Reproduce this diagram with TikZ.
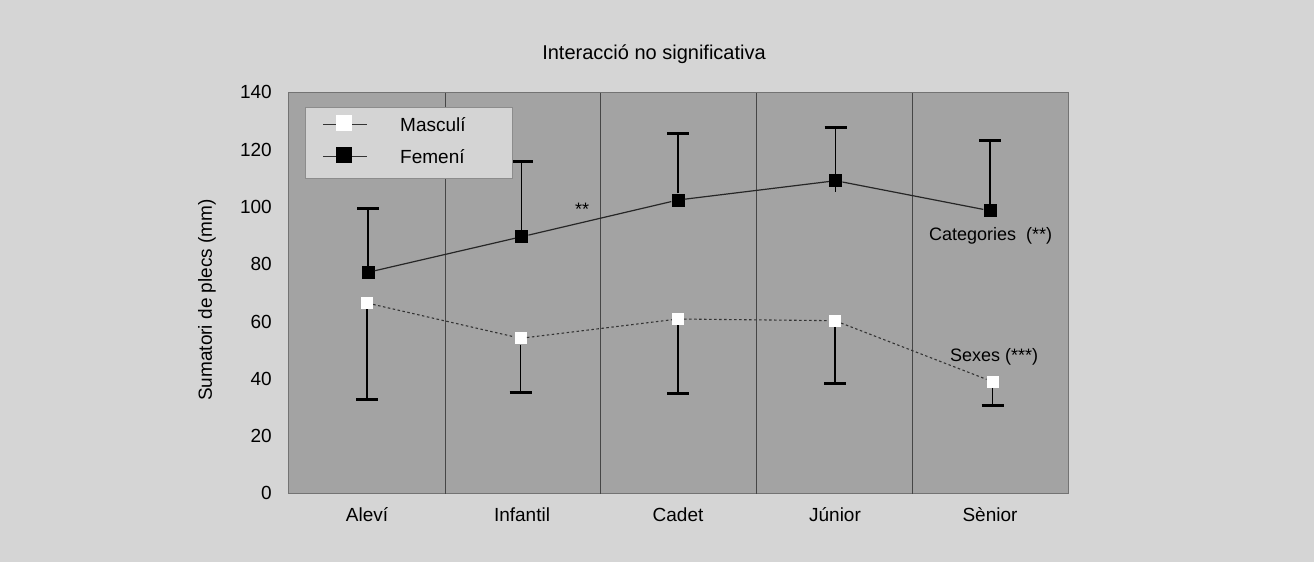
\documentclass[tikz,border=0pt]{standalone}
\usepackage{fontspec}
\setmainfont{Liberation Sans}
\definecolor{bgc}{RGB}{213,213,213}
\definecolor{plotc}{RGB}{163,163,163}
\definecolor{legc}{RGB}{212,212,212}
\definecolor{sepc}{RGB}{70,70,70}
\begin{document}
\begin{tikzpicture}[x=1pt,y=-1pt,
  fsq/.style={fill=black,draw=none,minimum size=13pt,inner sep=0pt},
  msq/.style={fill=white,draw=none,minimum size=12pt,inner sep=0pt},
  lfsq/.style={fill=black,draw=none,minimum size=16pt,inner sep=0pt},
  lmsq/.style={fill=white,draw=none,minimum size=16pt,inner sep=0pt},
  fline/.style={line width=1.2pt,black!85},
  mline/.style={line width=1.1pt,black!80,dash pattern=on 2.5pt off 2.5pt},
  ebar/.style={line width=1.1pt,black},
  ecap/.style={line width=3pt,black},
  lbl/.style={font=\fontsize{19}{22}\selectfont,inner sep=0pt},
  ann/.style={font=\fontsize{18}{21}\selectfont,inner sep=0pt},
  tick/.style={font=\fontsize{19}{22}\selectfont,inner sep=0pt,anchor=east}]
\useasboundingbox (0,0) rectangle (1314,562);
\fill[bgc] (0,0) rectangle (1314,562);
% plot area
\fill[plotc] (288.5,92.5) rectangle (1068,493.5);
\draw[line width=0.6pt,black!55] (288.5,92.5) rectangle (1068,493.5);
\foreach \x in {445,600.5,756.5,912.5}
  \draw[line width=0.9pt,sepc] (\x,92.5) -- (\x,493.5);
% title
\node[font=\fontsize{20}{24}\selectfont,inner sep=0pt,anchor=base] (title) at (654,59) {Interacció no significativa};
% y axis label
\node[lbl,rotate=90] (ylab) at (207,300) {Sumatori de plecs (mm)};
% tick labels
\foreach \v/\n in {0/t0,20/t20,40/t40,60/t60,80/t80,100/t100,120/t120,140/t140}
  \node[tick] (\n) at (272,{493.3-2.864*\v}) {\v};
% category labels
\node[lbl,anchor=base] (c1) at (367,521) {Aleví};
\node[lbl,anchor=base] (c2) at (522,521) {Infantil};
\node[lbl,anchor=base] (c3) at (678,521) {Cadet};
\node[lbl,anchor=base] (c4) at (835,521) {Júnior};
\node[lbl,anchor=base] (c5) at (990,521) {Sènior};
% caps coordinates
\coordinate (cf1) at (368,208.7);
\coordinate (cf2) at (521.7,161);
\coordinate (cf3) at (678,133.3);
\coordinate (cf4) at (835.7,127.7);
\coordinate (cf5) at (990,140.3);
\coordinate (lf4) at (835.7,192);
\coordinate (cm1) at (367,399.7);
\coordinate (cm2) at (520.7,392.3);
\coordinate (cm3) at (678,393);
\coordinate (cm4) at (835,383.3);
\coordinate (cm5) at (992.7,405.7);
% markers
\node[fsq] (f1) at (368,272.3) {};
\node[fsq] (f2) at (521.7,236.7) {};
\node[fsq] (f3) at (678,200) {};
\node[fsq] (f4) at (835.7,180.7) {};
\node[fsq] (f5) at (990,210.7) {};
\node[msq] (m1) at (367,303) {};
\node[msq] (m2) at (520.7,338.3) {};
\node[msq] (m3) at (678,319) {};
\node[msq] (m4) at (835,320.7) {};
\node[msq] (m5) at (992.7,381.7) {};
% connecting lines
\draw[fline] (f1) -- (f2) -- (f3) -- (f4) -- (f5);
\draw[mline] (m1) -- (m2) -- (m3) -- (m4) -- (m5);
% error bars
\foreach \i in {1,...,5}{
  \draw[ebar] (f\i.north) -- (cf\i);
  \draw[ecap] ([xshift=-11pt]cf\i) -- ([xshift=11pt]cf\i);
  \draw[ebar] (m\i.south) -- (cm\i);
  \draw[ecap] ([xshift=-11pt]cm\i) -- ([xshift=11pt]cm\i);
}
\draw[line width=0.8pt] (f4.south) -- (lf4);
% annotations
\node[ann,anchor=base] (sig) at (582,215) {**};
\node[ann,anchor=base west] (catl) at (929,240) {Categories~ (**)};
\node[ann,anchor=base west] (sexl) at (950,361) {Sexes (***)};
% legend
\node[draw=black!45,line width=0.6pt,fill=legc,minimum width=207pt,minimum height=71.6pt,inner sep=0pt,anchor=north west] (leg) at (305,106.7) {};
\coordinate (lm1) at (323,124);
\coordinate (lm2) at (367,124);
\coordinate (lf1) at (323,156.7);
\coordinate (lf2) at (367,156.7);
\draw[line width=1pt,black!80] (lm1) -- (lm2);
\draw[line width=1pt,black!80] (lf1) -- (lf2);
\node[lmsq] (legm) at (344,123) {};
\node[lfsq] (legf) at (344,154.7) {};
\node[lbl,anchor=base west] (legmt) at (400,131) {Masculí};
\node[lbl,anchor=base west] (legft) at (400,163.3) {Femení};
\end{tikzpicture}
\end{document}
